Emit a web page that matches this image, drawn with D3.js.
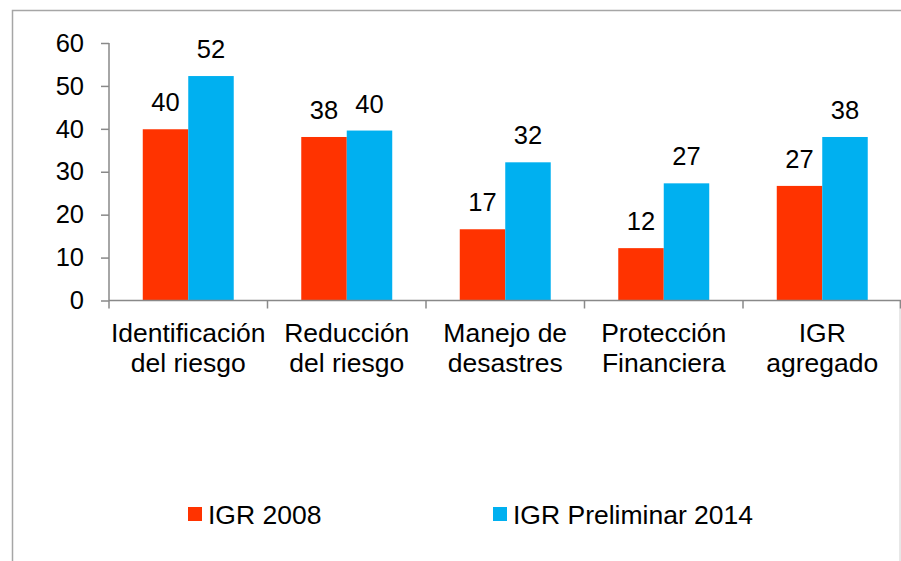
<!DOCTYPE html>
<html>
<head>
  <meta charset="utf-8">
  <title>IGR 2008 vs IGR Preliminar 2014</title>
  <script src="https://cdn.jsdelivr.net/npm/d3@7/dist/d3.min.js"></script>
  <style>
    html, body { margin: 0; padding: 0; background: #fff; }
    svg { display: block; font-family: "Liberation Sans", Arial, sans-serif; }
  </style>
</head>
<body>
  <svg width="901" height="561"></svg>

  <script>
    // datos
    const categories = [
      ["Identificación", "del riesgo"],
      ["Reducción", "del riesgo"],
      ["Manejo de", "desastres"],
      ["Protección", "Financiera"],
      ["IGR", "agregado"]
    ];
    const seriesNames = ["IGR 2008", "IGR Preliminar 2014"];
    const igr2008 = [39.9, 38.1, 16.6, 12.2, 26.7];
    const igr2014 = [52.3, 39.6, 32.2, 27.3, 38.1];
    const yTicks = [0, 10, 20, 30, 40, 50, 60];
    const colors = ["#FF3300", "#00B0F0"];

    const svg = d3.select("svg");
    const axisColor = "#898989";
    const fontSize = 25.5;
    const bigFont = 26.5;

    // marco
    svg.append("path")
      .attr("d", "M12.5,561 V10.5 H901")
      .attr("fill", "none")
      .attr("stroke", "#a6a6a6")
      .attr("stroke-width", 1.5);

    const x0 = d3.scaleBand()
      .domain(d3.range(categories.length))
      .range([109, 901.5])
      .padding(0);

    const groupFrac = 0.574;
    const x1 = d3.scaleBand()
      .domain(d3.range(seriesNames.length))
      .range([x0.bandwidth() * (1 - groupFrac) / 2, x0.bandwidth() * (1 + groupFrac) / 2])
      .padding(0);

    const y = d3.scaleLinear()
      .domain([0, 60])
      .range([300.5, 43]);

    svg.append("path")
      .attr("d", `M900,${y(0)} V561`)
      .attr("stroke", "#d0d0d0")
      .attr("stroke-width", 1);

    const data = categories.map((c, i) => [igr2008[i], igr2014[i]]);

    const groups = svg.append("g").selectAll("g")
      .data(data)
      .join("g")
      .attr("transform", (d, i) => `translate(${x0(i)},0)`);

    groups.selectAll("rect")
      .data(d => d.map((v, s) => ({ v, s })))
      .join("rect")
      .attr("x", d => x1(d.s))
      .attr("width", x1.bandwidth())
      .attr("y", d => y(d.v))
      .attr("height", d => y(0) - y(d.v))
      .attr("fill", d => colors[d.s]);

    groups.selectAll("text")
      .data(d => d.map((v, s) => ({ v, s })))
      .join("text")
      .attr("x", d => x1(d.s) + x1.bandwidth() / 2)
      .attr("y", d => y(d.v) - 18)
      .attr("text-anchor", "middle")
      .attr("font-size", fontSize)
      .attr("fill", "#000")
      .text(d => d3.format(".0f")(d.v));

    // eje Y
    const yAxis = svg.append("g")
      .attr("transform", "translate(109,0)")
      .call(d3.axisLeft(y).tickValues(yTicks).tickSize(8).tickPadding(17).tickSizeOuter(0));
    yAxis.select(".domain").attr("stroke", axisColor).attr("stroke-width", 1.5)
      .attr("d", `M0,${y(60)}V${y(0)}`);
    yAxis.selectAll(".tick line").attr("stroke", axisColor).attr("stroke-width", 1.5);
    yAxis.selectAll(".tick text")
      .attr("font-size", fontSize)
      .attr("font-family", "Liberation Sans, Arial, sans-serif")
      .attr("fill", "#000");

    // eje X
    const xAxis = svg.append("g");
    xAxis.append("line")
      .attr("x1", x0.range()[0]).attr("x2", x0.range()[1])
      .attr("y1", y(0)).attr("y2", y(0))
      .attr("stroke", axisColor).attr("stroke-width", 1.5);
    const bounds = d3.range(categories.length).map(i => x0(i)).concat([x0.range()[1] - 1]);
    xAxis.selectAll("line.tick")
      .data(bounds)
      .join("line")
      .attr("class", "tick")
      .attr("x1", d => d).attr("x2", d => d)
      .attr("y1", y(0)).attr("y2", y(0) + 8)
      .attr("stroke", axisColor).attr("stroke-width", 1.5);

    const catLabels = xAxis.selectAll("text.cat")
      .data(categories)
      .join("text")
      .attr("class", "cat")
      .attr("text-anchor", "middle")
      .attr("font-size", bigFont)
      .attr("fill", "#000");
    catLabels.selectAll("tspan")
      .data((d, i) => d.map(t => ({ t, i })))
      .join("tspan")
      .attr("x", d => x0(d.i) + x0.bandwidth() / 2)
      .attr("y", (d, j) => 342 + j * 30)
      .text(d => d.t);

    // leyenda
    const legendX = [188, 493];
    const legend = svg.append("g").selectAll("g")
      .data(seriesNames)
      .join("g")
      .attr("transform", (d, i) => `translate(${legendX[i]},507)`);
    legend.append("rect")
      .attr("width", 14).attr("height", 14)
      .attr("fill", (d, i) => colors[i]);
    legend.append("text")
      .attr("x", 20).attr("y", 16.5)
      .attr("font-size", bigFont)
      .attr("fill", "#000")
      .text(d => d);
  </script>
</body>
</html>
